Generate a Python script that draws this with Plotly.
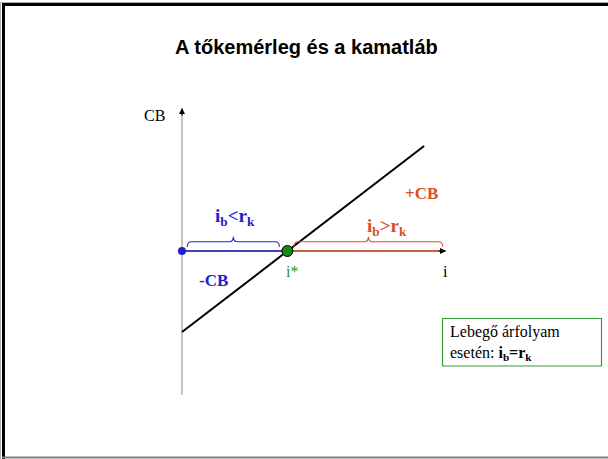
import plotly.graph_objects as go

# ---- data (conceptual units) ----
i_axis = [0, 10]              # horizontal axis extent (i)
cb_axis = [-5.45, 5.42]       # vertical axis extent (CB)
line_i = [0, 9.17]            # CB line
line_cb = [-3.07, 3.98]
i_star = 3.99                 # equilibrium point
neg_span = [0, i_star]        # blue segment (ib<rk)
pos_span = [i_star, 9.85]     # orange segment (ib>rk)
brace_neg = [0.2, 3.69]
brace_pos = [4.24, 9.88]

W, H = 608, 459
S = 26.4        # pixels per unit
OX, OY = 182, 251  # pixel position of origin

BLUE = "#2222cc"
ORANGE = "#d9501e"
GREEN = "#138a13"
TXTGREEN = "#1f9a1f"

fig = go.Figure()

# axes lines
fig.add_trace(go.Scatter(x=[0, 0], y=cb_axis, mode="lines",
                         line=dict(color="#8a8a8a", width=1), hoverinfo="skip"))
fig.add_trace(go.Scatter(x=i_axis, y=[0, 0], mode="lines",
                         line=dict(color="#333333", width=1), hoverinfo="skip"))
# colored segments on the i axis
fig.add_trace(go.Scatter(x=neg_span, y=[0, 0], mode="lines",
                         line=dict(color=BLUE, width=1.3), hoverinfo="skip"))
fig.add_trace(go.Scatter(x=pos_span, y=[0, 0], mode="lines",
                         line=dict(color=ORANGE, width=1.3), hoverinfo="skip"))
# CB line
fig.add_trace(go.Scatter(x=line_i, y=line_cb, mode="lines",
                         line=dict(color="black", width=2), hoverinfo="skip"))
# points
fig.add_trace(go.Scatter(x=[0], y=[0], mode="markers",
                         marker=dict(color=BLUE, size=8), hoverinfo="skip"))
fig.add_trace(go.Scatter(x=[i_star], y=[0], mode="markers",
                         marker=dict(color=GREEN, size=11, line=dict(color="black", width=1)),
                         hoverinfo="skip"))


def brace(span, color, base=0.16, flat=0.35, tip=0.54, r=0.16):
    x0, x1 = span
    xm = (x0 + x1) / 2
    p = (f"M {x0},{base} Q {x0},{flat} {x0 + r},{flat} L {xm - r},{flat} "
         f"Q {xm},{flat} {xm},{tip} Q {xm},{flat} {xm + r},{flat} "
         f"L {x1 - r},{flat} Q {x1},{flat} {x1},{base}")
    return dict(type="path", path=p, xref="x", yref="y",
                line=dict(color=color, width=1.1))


shapes = [brace(brace_neg, BLUE), brace(brace_pos, ORANGE)]

# slide frame
def px(x):
    return x / W


def py(y):
    return 1 - y / H


shapes += [
    dict(type="line", xref="paper", yref="paper", x0=px(0.5), x1=px(0.5), y0=py(2), y1=py(459),
         line=dict(color="#b0b0b0", width=1)),
    dict(type="line", xref="paper", yref="paper", x0=px(1), x1=px(608), y0=py(2.5), y1=py(2.5),
         line=dict(color="#b0b0b0", width=1)),
    dict(type="line", xref="paper", yref="paper", x0=px(3.5), x1=px(3.5), y0=py(3), y1=py(459),
         line=dict(color="black", width=3)),
    dict(type="line", xref="paper", yref="paper", x0=px(2), x1=px(608), y0=py(4.5), y1=py(4.5),
         line=dict(color="black", width=3)),
    dict(type="line", xref="paper", yref="paper", x0=px(2), x1=px(608), y0=py(457.5), y1=py(457.5),
         line=dict(color="#808080", width=2)),
    # info box
    dict(type="rect", xref="paper", yref="paper", x0=px(442.5), x1=px(601.5), y0=py(318.5), y1=py(366),
         line=dict(color="#3a9a3a", width=1.2), fillcolor="white"),
]

SERIF = "Liberation Serif"
ann = [
    dict(x=px(306), y=py(47), xref="paper", yref="paper", showarrow=False,
         xanchor="center", yanchor="middle",
         text="<b>A tőkemérleg és a kamatláb</b>",
         font=dict(family="Liberation Sans", size=20, color="black")),
    # arrowheads
    dict(x=0, y=cb_axis[1], xref="x", yref="y", ax=0, ay=9, showarrow=True, text="",
         arrowhead=2, arrowsize=1, arrowwidth=1.2, arrowcolor="black"),
    dict(x=i_axis[1], y=0, xref="x", yref="y", ax=-9, ay=0, showarrow=True, text="",
         arrowhead=2, arrowsize=1, arrowwidth=1.2, arrowcolor="black"),
    dict(x=-1.04, y=5.15, xref="x", yref="y", showarrow=False, text="CB",
         font=dict(family=SERIF, size=16, color="black")),
    dict(x=9.99, y=-0.78, xref="x", yref="y", showarrow=False, text="i",
         font=dict(family=SERIF, size=16, color="black")),
    dict(x=4.16, y=-0.76, xref="x", yref="y", showarrow=False, text="i*",
         font=dict(family=SERIF, size=16, color=TXTGREEN)),
    dict(x=2.0, y=1.28, xref="x", yref="y", showarrow=False,
         text="<b>i<sub>b</sub>&lt;r<sub>k</sub></b>",
         font=dict(family=SERIF, size=19, color=BLUE)),
    dict(x=7.75, y=0.9, xref="x", yref="y", showarrow=False,
         text="<b>i<sub>b</sub>&gt;r<sub>k</sub></b>",
         font=dict(family=SERIF, size=19, color=ORANGE)),
    dict(x=9.08, y=2.16, xref="x", yref="y", showarrow=False, text="<b>+CB</b>",
         font=dict(family=SERIF, size=17, color=ORANGE)),
    dict(x=1.19, y=-1.125, xref="x", yref="y", showarrow=False, text="<b>-CB</b>",
         font=dict(family=SERIF, size=17, color=BLUE)),
    dict(x=px(448), y=py(343), xref="paper", yref="paper", showarrow=False,
         xanchor="left", yanchor="middle", align="left",
         text="Lebegő árfolyam<br>esetén: <b>i<sub>b</sub>=r<sub>k</sub></b>",
         font=dict(family=SERIF, size=16, color="black")),
]

fig.update_layout(
    width=W, height=H,
    margin=dict(l=0, r=0, t=0, b=0),
    paper_bgcolor="white", plot_bgcolor="white",
    showlegend=False,
    xaxis=dict(range=[-OX / S, (W - OX) / S], visible=False, fixedrange=True),
    yaxis=dict(range=[-(H - OY) / S, OY / S], visible=False, fixedrange=True),
    shapes=shapes,
    annotations=ann,
)

fig.write_html("out.html", config={"displayModeBar": False},
               post_script=("document.body.style.margin='0';"
                            "document.body.style.overflow='hidden';"
                            "document.documentElement.style.overflow='hidden';"))
